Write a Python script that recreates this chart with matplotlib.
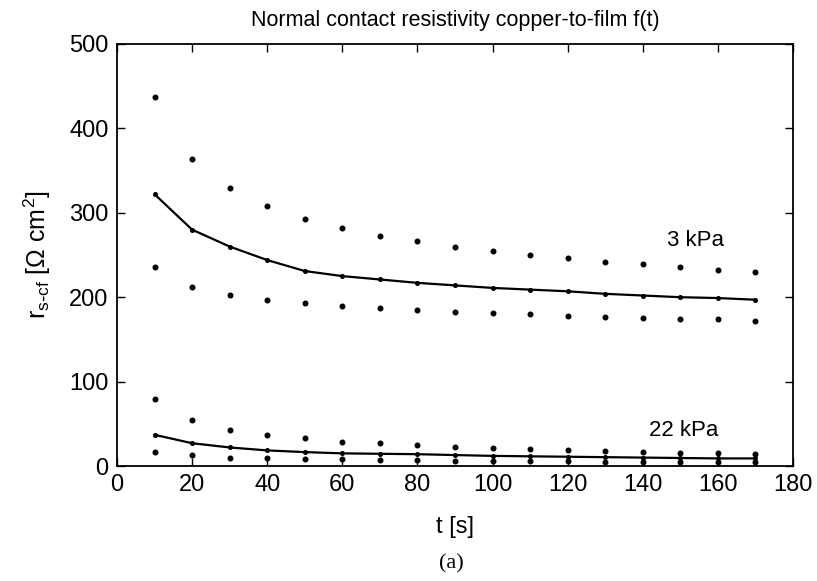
import matplotlib
matplotlib.use("Agg")
import matplotlib.pyplot as plt

t = [10, 20, 30, 40, 50, 60, 70, 80, 90, 100, 110, 120, 130, 140, 150, 160, 170]

# 3 kPa
r3_upper = [437, 364, 329, 308, 293, 282, 273, 266, 260, 255, 250, 246, 242, 239, 236, 232, 230]
r3_mean = [322, 280, 260, 244, 231, 225, 221, 217, 214, 211, 209, 207, 204, 202, 200, 199, 197]
r3_lower = [236, 212, 203, 197, 193, 190, 187, 185, 182, 181, 180, 178, 176, 175, 174.5, 174, 172]

# 22 kPa
r22_upper = [79, 54, 43, 37, 33, 29, 27, 25, 23, 21, 20, 19, 18, 17, 16, 15, 14]
r22_mean = [37, 27, 22, 18.5, 16.5, 15, 14.5, 14, 13, 12, 11.5, 11, 10.5, 10, 9.5, 9, 9]
r22_lower = [16.5, 12.6, 10, 9, 8, 8, 7.5, 7, 6.5, 6, 6, 5.5, 5, 5, 5, 4.5, 4.5]

x_ticks = [0, 20, 40, 60, 80, 100, 120, 140, 160, 180]
y_ticks = [0, 100, 200, 300, 400, 500]

plt.rcParams['font.family'] = ['Liberation Sans', 'DejaVu Sans']
plt.rcParams['mathtext.default'] = 'regular'

fig = plt.figure(figsize=(8.17, 5.81), dpi=100)
ax = fig.add_axes([0.1432, 0.1979, 0.8274, 0.7264])

for up, mean, lo in [(r3_upper, r3_mean, r3_lower), (r22_upper, r22_mean, r22_lower)]:
    ax.plot(t, up, linestyle='none', marker='o', markersize=3.3, color='black')
    ax.plot(t, lo, linestyle='none', marker='o', markersize=3.3, color='black')
    ax.plot(t, mean, linestyle='-', linewidth=1.6, marker='o', markersize=2.6, color='black')

ax.set_xlim(0, 180)
ax.set_ylim(0, 500)
ax.set_xticks(x_ticks)
ax.set_yticks(y_ticks)
ax.tick_params(direction='in', length=6, width=1, top=True, right=True, labelsize=17, pad=6)
for s in ax.spines.values():
    s.set_linewidth(1.3)

ax.text(154, 267, '3 kPa', fontsize=16, ha='center', va='center')
ax.text(151, 42, '22 kPa', fontsize=16, ha='center', va='center')

ax.set_title('Normal contact resistivity copper-to-film f(t)', fontsize=15.5, pad=13)
ax.set_xlabel('t [s]', fontsize=17, labelpad=14)
ax.set_ylabel(r'r$_{s\text{-}cf}$ [Ω cm$^2$]', fontsize=18, labelpad=12)

fig.text(0.553, 0.03, '(a)', fontsize=16, ha='center', va='center', family=['Liberation Serif', 'DejaVu Serif'])

fig.savefig('out.png', dpi=100)
